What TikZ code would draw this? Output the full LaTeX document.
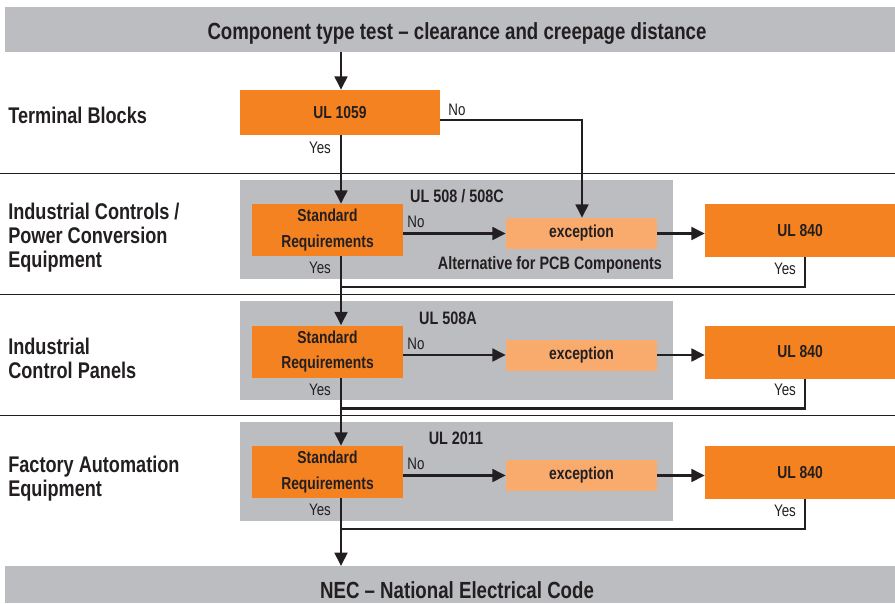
\documentclass[tikz,border=0pt]{standalone}
\usepackage{fontspec}
\setmainfont{Liberation Sans}[FakeStretch=0.8]
\usetikzlibrary{arrows.meta}
\definecolor{panelgray}{HTML}{BCBDC1}
\definecolor{orangeA}{HTML}{F58220}
\definecolor{orangeL}{HTML}{F9AB6E}
\definecolor{ink}{HTML}{231F20}
\tikzset{
  bar/.style={fill=panelgray,draw=none},
  panel/.style={fill=panelgray,draw=none},
  obox/.style={fill=orangeA,draw=none,font=\bfseries\fontsize{13}{19}\selectfont,text=ink,align=center,inner sep=0pt},
  lbox/.style={fill=orangeL,draw=none,font=\bfseries\fontsize{13}{15}\selectfont,text=ink,inner sep=0pt},
  lab/.style={font=\fontsize{12.5}{14}\selectfont,text=ink,inner sep=0pt},
  plab/.style={font=\bfseries\fontsize{13.5}{15}\selectfont,text=ink,inner sep=0pt},
  rowlab/.style={font=\bfseries\fontsize{17}{18}\selectfont,text=ink,align=left,anchor=west,inner sep=0pt},
  conn/.style={draw=ink,line width=2pt},
  arr/.style={conn,-{Triangle[length=10pt,width=9.5pt]}},
  sep/.style={draw=ink,line width=0.6pt}
}
\begin{document}
\begin{tikzpicture}[x=0.75pt,y=-0.75pt]
\useasboundingbox (0,0) rectangle (895,603);
% bars
\fill[bar] (5,7) rectangle (895,52);
\node[font=\bfseries\fontsize{17.5}{20}\selectfont,text=ink] (title) at (457,34) {Component type test – clearance and creepage distance};
\fill[bar] (5,566) rectangle (895,603);
\node[font=\bfseries\fontsize{17.5}{20}\selectfont,text=ink] (nec) at (457,590) {NEC – National Electrical Code};
\coordinate (topbar) at (341,52);
\coordinate (botbar) at (341,566);
\coordinate (spine) at (341,0);
% separators
\draw[sep] (0,173) -- (895,173);
\draw[sep] (0,294) -- (895,294);
\draw[sep] (0,415) -- (895,415);
% row labels
\node[rowlab] (r1) at (8,115) {Terminal Blocks};
\node[rowlab] (r2) at (8,238) {Industrial Controls /\\Power Conversion\\Equipment};
\node[rowlab] (r3) at (8,358) {Industrial\\Control Panels};
\node[rowlab] (r4) at (8,479) {Factory Automation\\Equipment};
% panels
\fill[panel] (240,180) rectangle (673,279);
\fill[panel] (240,301) rectangle (673,400);
\fill[panel] (240,422) rectangle (673,521);
\node[plab] (p1) at (457,196) {UL 508 / 508C};
\node[plab] (p2) at (448,318) {UL 508A};
\node[plab] (p3) at (456,438) {UL 2011};
\node[plab] (alt) at (550,265) {Alternative for PCB Components};
% UL1059
\node[obox,minimum width=200*0.75pt,minimum height=45*0.75pt] (ul1059) at (340,112.5) {UL 1059};
% rows
\foreach \i/\y in {1/230,2/351.5,3/472}{
  \node[obox,minimum width=151*0.75pt,minimum height=52*0.75pt] (std\i) at (327.5,\y) {Standard\\Requirements};
  \node[lbox,minimum width=151*0.75pt,minimum height=31*0.75pt] (exc\i) at (581.5,\y+3.5) {exception};
  \node[obox,minimum width=190*0.75pt,minimum height=53*0.75pt] (ul\i) at (800,\y+0.5) {UL 840};
  \node[lab] (no\i) at (416,\y-8) {No};
  \node[lab] (yes\i) at (320,\y+38) {Yes};
  \node[lab] (yesr\i) at (785,\y+38.5) {Yes};
  \coordinate (ret\i) at (805,\y+57);
  \draw[arr] (std\i.east |- exc\i.west) -- (exc\i.west);
  \draw[arr] (exc\i.east) -- (exc\i.east -| ul\i.west);
  \draw[conn] (ul\i.south -| ret\i) -- (ret\i) -- (ret\i -| spine);
}
\node[lab] (yes0) at (320,148) {Yes};
\node[lab] (no0) at (457,110) {No};
\draw[arr] (topbar) -- (ul1059.north -| topbar);
\draw[arr] (ul1059.south -| spine) -- (std1.north -| spine);
\coordinate (nocorner) at (582,120);
\draw[arr] (ul1059.east |- nocorner) -- (nocorner) -- (nocorner |- exc1.north);
\draw[arr] (std1.south -| spine) -- (std2.north -| spine);
\draw[arr] (std2.south -| spine) -- (std3.north -| spine);
\draw[arr] (std3.south -| spine) -- (botbar);
\end{tikzpicture}
\end{document}
